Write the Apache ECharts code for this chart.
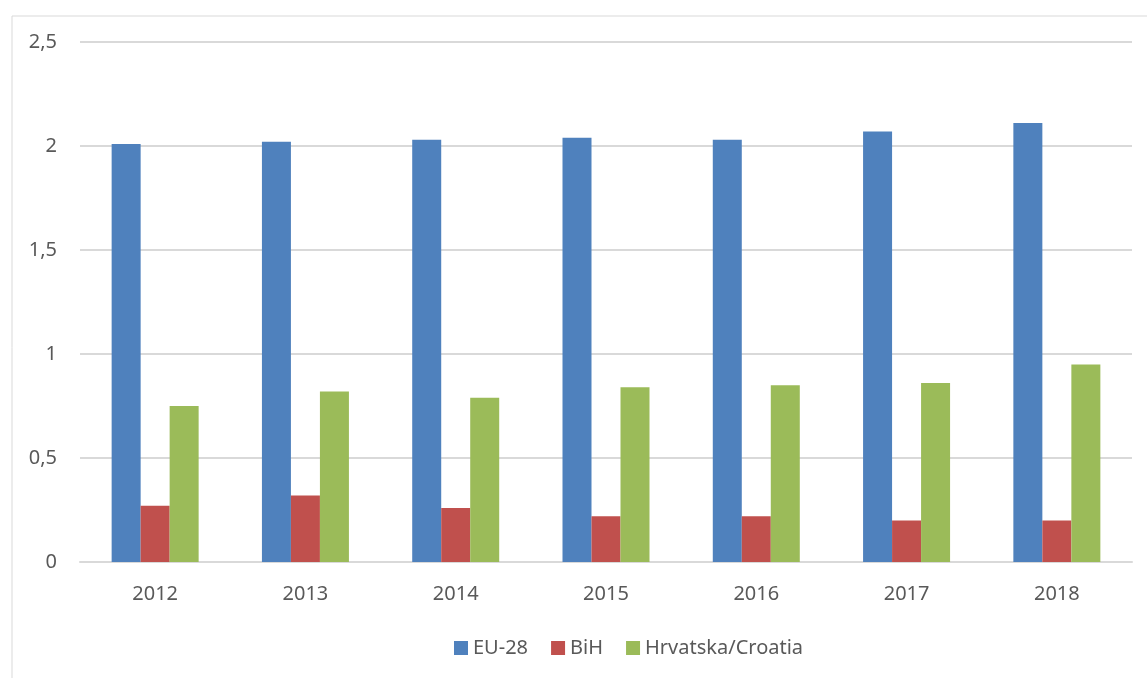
<!DOCTYPE html>
<html>
<head>
<meta charset="utf-8">
<script src="https://cdn.jsdelivr.net/npm/echarts@6/dist/echarts.min.js"></script>
<style>
html,body{margin:0;padding:0;background:#fff;}
#c{width:1147px;height:678px;}
</style>
</head>
<body>
<div id="c"></div>
<script>
const categories = ['2012','2013','2014','2015','2016','2017','2018'];
const eu28 = [2.01, 2.02, 2.03, 2.04, 2.03, 2.07, 2.11];
const bih = [0.27, 0.32, 0.26, 0.22, 0.22, 0.20, 0.20];
const croatia = [0.75, 0.82, 0.79, 0.84, 0.85, 0.86, 0.95];
const seriesNames = ['EU-28', 'BiH', 'Hrvatska/Croatia'];

const FONT = 'Noto Sans';
const chart = echarts.init(document.getElementById('c'));
chart.setOption({
  animation: false,
  textStyle: {fontFamily: FONT},
  graphic: [{
    type: 'rect', left: 9.5, top: 13.5,
    shape: {width: 1300, height: 800},
    style: {fill: 'none', stroke: '#d9d9d9', lineWidth: 1}
  }],
  grid: {left: 80, right: 15, top: 42, bottom: 116},
  legend: {
    data: seriesNames,
    top: 633,
    left: 449,
    itemWidth: 14, itemHeight: 14, itemGap: 23,
    icon: 'rect',
    textStyle: {color: '#595959', fontSize: 20, fontFamily: FONT}
  },
  xAxis: {
    type: 'category',
    data: categories,
    axisLine: {lineStyle: {color: '#d9d9d9', width: 2}},
    axisTick: {show: false},
    axisLabel: {color: '#595959', fontSize: 20, margin: 22, fontFamily: FONT}
  },
  yAxis: {
    type: 'value',
    min: 0, max: 2.5, interval: 0.5,
    axisLine: {show: false},
    axisTick: {show: false},
    splitLine: {lineStyle: {color: '#d9d9d9', width: 2}},
    axisLabel: {
      color: '#595959', fontSize: 20, margin: 23, fontFamily: FONT,
      formatter: v => String(v).replace('.', ',')
    }
  },
  series: [
    {name: seriesNames[0], type: 'bar', data: eu28, barWidth: 29, barGap: '0%', itemStyle: {color: '#4f81bd'}},
    {name: seriesNames[1], type: 'bar', data: bih, barWidth: 29, barGap: '0%', itemStyle: {color: '#c0504d'}},
    {name: seriesNames[2], type: 'bar', data: croatia, barWidth: 29, barGap: '0%', itemStyle: {color: '#9bbb59'}}
  ]
});
</script>
</body>
</html>
